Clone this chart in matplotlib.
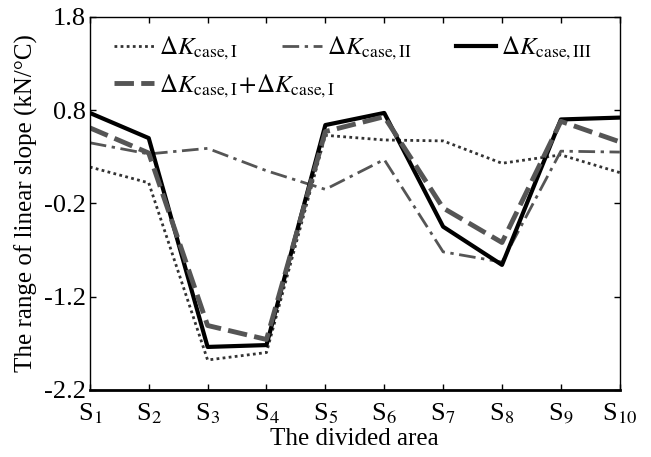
import matplotlib
matplotlib.use("Agg")
import matplotlib.pyplot as plt

plt.rcParams['font.family'] = ['Liberation Serif', 'DejaVu Serif']
plt.rcParams['mathtext.fontset'] = 'stix'

# divided areas S1..S10
areas = ['S$_{%d}$' % i for i in range(1, 11)]

# range of linear slope (kN/°C) per case
k_case1 = [0.19, 0.02, -1.88, -1.80, 0.53, 0.48, 0.47, 0.23, 0.32, 0.13]
k_case2 = [0.45, 0.33, 0.39, 0.15, -0.05, 0.27, -0.72, -0.83, 0.36, 0.35]
k_case3 = [0.77, 0.50, -1.74, -1.72, 0.64, 0.77, -0.45, -0.86, 0.70, 0.72]
k_sum = [0.61, 0.34, -1.51, -1.66, 0.57, 0.73, -0.25, -0.62, 0.68, 0.46]

y_ticks = [-2.2, -1.2, -0.2, 0.8, 1.8]

fig = plt.figure(figsize=(6.51, 4.57), dpi=100)
ax = fig.add_axes([0.138, 0.147, 0.814, 0.816])

x = range(len(areas))
l1, = ax.plot(x, k_case1, color='#333333', lw=2.0, ls=(0, (1, 1.2)))
l2, = ax.plot(x, k_case2, color='#555555', lw=2.0, ls=(0, (6, 2, 1.2, 2)))
l3, = ax.plot(x, k_case3, color='black', lw=3.0, ls='-')
l4, = ax.plot(x, k_sum, color='#555555', lw=3.5, ls=(0, (4, 1.5)))

ax.set_xlim(0, len(areas) - 1)
ax.set_ylim(-2.2, 1.8)
ax.set_xticks(list(x))
ax.set_xticklabels(areas)
ax.set_yticks(y_ticks)
ax.set_yticklabels(['%.1f' % v for v in y_ticks])
ax.tick_params(direction='in', top=True, right=True, length=4, width=1,
               labelsize=19)
ax.tick_params(axis='x', pad=8)
ax.tick_params(axis='y', pad=3)
for s in ['top', 'right', 'left']:
    ax.spines[s].set_linewidth(1.0)
ax.spines['bottom'].set_linewidth(2.0)

ax.set_xlabel('The divided area', fontsize=18, labelpad=2)
ax.set_ylabel('The range of linear slope (kN/°C)', fontsize=18, labelpad=4)

lab1 = r'$\Delta K_{\mathrm{case,I}}$'
lab2 = r'$\Delta K_{\mathrm{case,II}}$'
lab3 = r'$\Delta K_{\mathrm{case,III}}$'
lab4 = r'$\Delta K_{\mathrm{case,I}}\!+\!\Delta K_{\mathrm{case,I}}$'

leg1 = ax.legend([l1, l2, l3], [lab1, lab2, lab3], ncol=3, loc='upper left',
                 bbox_to_anchor=(0.017, 0.992), frameon=False, fontsize=18,
                 handlelength=1.6, handletextpad=0.2, columnspacing=1.75,
                 borderaxespad=0.2)
ax.add_artist(leg1)
ax.legend([l4], [lab4], loc='upper left', bbox_to_anchor=(0.017, 0.892),
          frameon=False, fontsize=18, handlelength=1.6, handletextpad=0.2,
          borderaxespad=0.2)

fig.savefig('out.png', dpi=100)
